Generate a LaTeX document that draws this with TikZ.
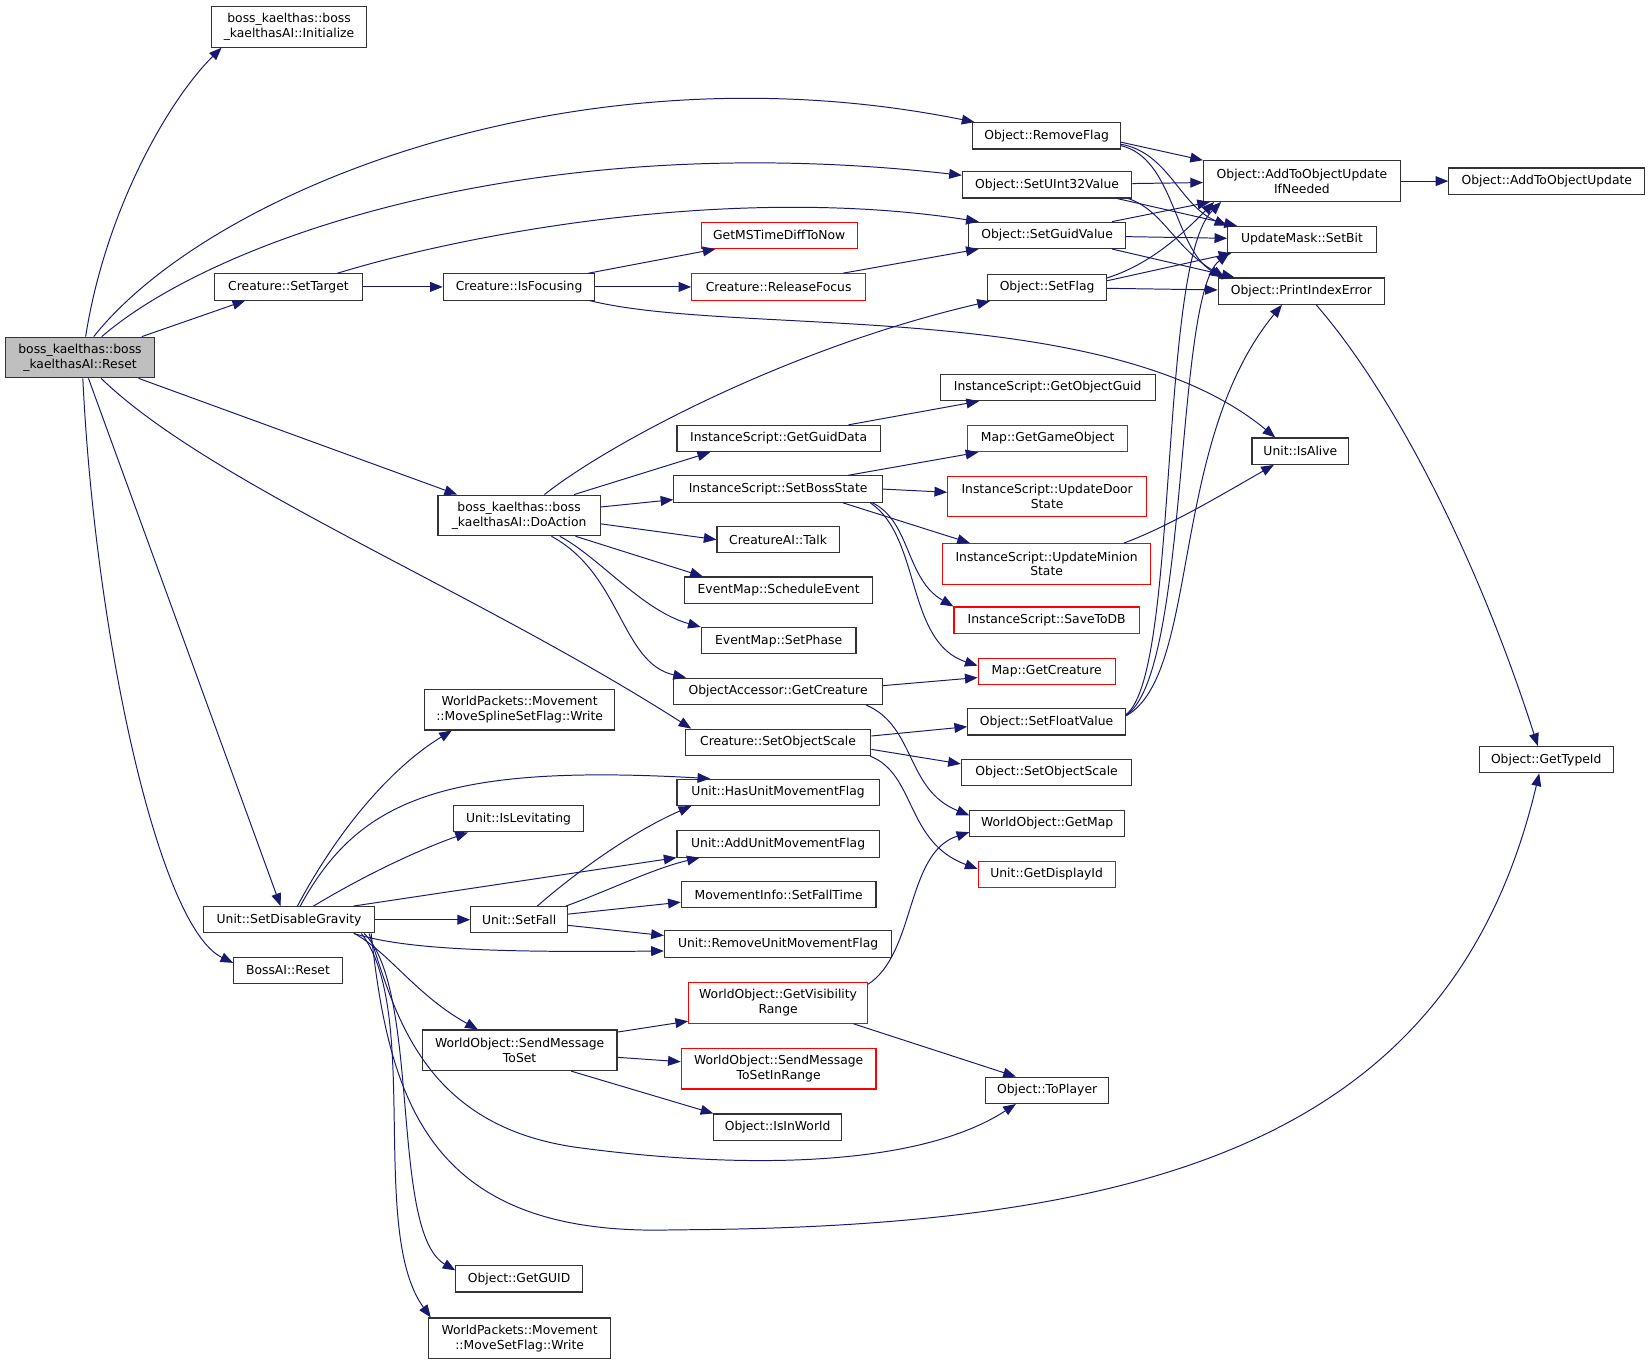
\documentclass[tikz,border=0pt]{standalone}
\usepackage{fontspec}
\setmainfont{DejaVu Sans}
\usepackage{tikz}
\usetikzlibrary{arrows.meta,positioning}
\definecolor{edgeblue}{RGB}{25,25,112}
\definecolor{rootgray}{RGB}{191,191,191}

\begin{document}
\begin{tikzpicture}[
    x=0.75pt, y=0.75pt,
    >={Triangle[length=9pt,width=7pt]},
    font=\fontsize{8.8}{10.6}\selectfont,
    func/.style={
		rectangle,
		draw=black!80,
		line width=0.8pt,
		fill=white,
		text centered,
		align=center,
		inner xsep=1pt,
		inner ysep=0pt,
		minimum height=18.75pt
	},
	ext/.style={func, draw=red},
	root/.style={func, fill=rootgray},
	tall/.style={minimum height=28.9pt},
	wd/.style={minimum width=#1*0.75pt},
	call/.style={draw=edgeblue, line width=0.7pt, ->}
  ]
  \useasboundingbox (0,0) rectangle (1568,-1296);

    % We start by placing the blocks
  \node [root, tall, wd=142] (reset) at (76,-339.5) {boss\_kaelthas::boss\\\_kaelthasAI::Reset};
  \node [func, tall, wd=147] (initialize) at (274.5,-25.5) {boss\_kaelthas::boss\\\_kaelthasAI::Initialize};
  \node [func, wd=140] (settarget) at (274,-272.5) {Creature::SetTarget};
  \node [func, wd=163] (disgravity) at (274.5,-873.5) {Unit::SetDisableGravity};
  \node [func, wd=103] (bossreset) at (273.5,-921.5) {BossAI::Reset};

  % second column
  \node [func, wd=144] (isfocusing) at (493,-272.5) {Creature::IsFocusing};
  \node [func, tall, wd=154] (doaction) at (493,-489.5) {boss\_kaelthas::boss\\\_kaelthasAI::DoAction};
  \node [func, tall, wd=181] (splinewrite) at (493.5,-674) {WorldPackets::Movement\\::MoveSplineSetFlag::Write};
  \node [func, wd=123] (islevitating) at (492.5,-777.5) {Unit::IsLevitating};
  \node [func, wd=92] (setfall) at (493,-873.5) {Unit::SetFall};
  \node [func, tall, wd=185] (sendset) at (493.5,-997.5) {WorldObject::SendMessage\\ToSet};
  \node [func, wd=120] (getguid) at (493,-1214.5) {Object::GetGUID};
  \node [func, tall, wd=173] (setflagwrite) at (493.5,-1271) {WorldPackets::Movement\\::MoveSetFlag::Write};

  % third column
  \node [ext, wd=148] (msdiff) at (740,-223.5) {GetMSTimeDiffToNow};
  \node [ext, wd=165] (releasefocus) at (739.5,-272.5) {Creature::ReleaseFocus};
  \node [func, wd=193] (getguiddata) at (739.5,-416.5) {InstanceScript::GetGuidData};
  \node [func, wd=198] (setbossstate) at (739,-464.5) {InstanceScript::SetBossState};
  \node [func, wd=116] (talk) at (739,-512.5) {CreatureAI::Talk};
  \node [func, wd=179] (schedule) at (739.5,-560.5) {EventMap::ScheduleEvent};
  \node [func, wd=147] (setphase) at (739.5,-608.5) {EventMap::SetPhase};
  \node [func, wd=198] (oagetcreature) at (739,-656.5) {ObjectAccessor::GetCreature};
  \node [func, wd=176] (crscale) at (739,-705) {Creature::SetObjectScale};
  \node [func, wd=192] (hasflag) at (739,-752.5) {Unit::HasUnitMovementFlag};
  \node [func, wd=192] (addflag) at (739,-801.5) {Unit::AddUnitMovementFlag};
  \node [func, wd=185] (falltime) at (739.5,-849.5) {MovementInfo::SetFallTime};
  \node [func, wd=216] (removemflag) at (739,-896.5) {Unit::RemoveUnitMovementFlag};
  \node [ext, tall, wd=170] (visrange) at (739,-952.5) {WorldObject::GetVisibility\\Range};
  \node [ext, tall, wd=185] (sendrange) at (739.5,-1015) {WorldObject::SendMessage\\ToSetInRange};
  \node [func, wd=121] (isinworld) at (738.5,-1070.5) {Object::IsInWorld};

  % fourth column
  \node [func, wd=140] (removeflag) at (994,-129) {Object::RemoveFlag};
  \node [func, wd=161] (setuint) at (994.5,-175.5) {Object::SetUInt32Value};
  \node [func, wd=149] (setguid) at (994.5,-223.5) {Object::SetGuidValue};
  \node [func, wd=113] (setflag) at (994.5,-273) {Object::SetFlag};
  \node [func, wd=204] (getobjguid) at (995,-368) {InstanceScript::GetObjectGuid};
  \node [ext, wd=152] (getgameobject) at (995,-416.5) {Map::GetGameObject};
  \node [ext, tall, wd=189] (updatedoor) at (994.5,-471.5) {InstanceScript::UpdateDoor\\State};
  \node [ext, tall, wd=198] (updateminion) at (994,-535.5) {InstanceScript::UpdateMinion\\State};
  \node [ext, wd=176] (savetodb) at (994,-589) {InstanceScript::SaveToDB};
  \node [ext, wd=130] (mapcreature) at (994,-637.5) {Map::GetCreature};
  \node [func, wd=150] (setfloat) at (994,-685.5) {Object::SetFloatValue};
  \node [func, wd=162] (objscale) at (994,-733.5) {Object::SetObjectScale};
  \node [func, wd=147] (getmap) at (994.5,-782) {WorldObject::GetMap};
  \node [ext, wd=130] (displayid) at (994,-830.5) {Unit::GetDisplayId};
  \node [func, wd=117] (toplayer) at (994.5,-1035.5) {Object::ToPlayer};

  % right columns
  \node [func, tall, wd=187] (addupdate) at (1236.5,-172) {Object::AddToObjectUpdate\\IfNeeded};
  \node [func, wd=141] (setbit) at (1236.5,-227.5) {UpdateMask::SetBit};
  \node [func, wd=158] (printerror) at (1236,-276.5) {Object::PrintIndexError};
  \node [func, wd=92] (isalive) at (1235,-428.5) {Unit::IsAlive};
  \node [func, wd=186] (addobject) at (1469,-172) {Object::AddToObjectUpdate};
  \node [func, wd=127] (typeid) at (1468.5,-721.5) {Object::GetTypeId};

  % calls of the root
  \draw [call] ([xshift=4pt]reset.north) .. controls (100,-200) and (160,-95) .. ([xshift=7.5pt]initialize.south west);
  \draw [call] ([xshift=9.75pt]reset.north) .. controls (200,-180) and (550,-40) .. ([xshift=1.5pt]removeflag.north west);
  \draw [call] ([xshift=15.5pt]reset.north) .. controls (200,-230) and (500,-120) .. ([yshift=-3pt]setuint.north west);
  \draw [call] ([xshift=44pt]reset.north) -- ([xshift=22pt]settarget.south west);
  \draw [call] ([xshift=-12pt]reset.south east) -- ([xshift=14pt]doaction.north west);
  \draw [call] ([xshift=15pt]reset.south) .. controls (200,-460) and (450,-560) .. ([xshift=4.5pt]crscale.north west);
  \draw [call] ([xshift=6pt]reset.south) -- ([xshift=55.5pt]disgravity.north west);
  \draw [call] ([xshift=2pt]reset.south) .. controls (90,-600) and (150,-880) .. ([yshift=-4.5pt]bossreset.north west);

  % target and focus
  \draw [call] ([xshift=-18pt]settarget.north east) .. controls (450,-220) and (700,-175) .. ([xshift=7.5pt]setguid.north west);
  \draw [call] (settarget) -- (isfocusing);
  \draw [call] ([xshift=-5pt]isfocusing.north east) -- ([xshift=10.5pt]msdiff.south west);
  \draw [call] (isfocusing) -- (releasefocus);
  \draw [call] ([xshift=-4pt]isfocusing.south east) .. controls (700,-320) and (1050,-282) .. ([xshift=17pt]isalive.north west);
  \draw [call] ([xshift=-16.5pt]releasefocus.north east) -- ([xshift=7.5pt]setguid.south west);

  % object setters
  \draw [call] ([yshift=-4.5pt]removeflag.east) -- (addupdate.north west);
  \draw [call] ([yshift=-6pt]removeflag.east) .. controls (1110,-145) and (1120,-195) .. (setbit.north west);
  \draw [call] ([yshift=-7pt]removeflag.east) .. controls (1115,-150) and (1115,-235) .. ([xshift=3pt]printerror.north west);
  \draw [call] (setuint) -- (addupdate);
  \draw [call] ([xshift=-11pt]setuint.south east) -- ([xshift=7pt]setbit.north west);
  \draw [call] ([xshift=-3pt]setuint.south east) .. controls (1105,-200) and (1115,-235) .. ([xshift=5pt]printerror.north west);
  \draw [call] ([xshift=-10pt]setguid.north east) -- ([xshift=5pt]addupdate.south west);
  \draw [call] (setguid) -- (setbit);
  \draw [call] ([xshift=-10pt]setguid.south east) -- ([xshift=12pt]printerror.north west);
  \draw [call] ([yshift=-3pt]setflag.north east) .. controls (1095,-250) and (1125,-220) .. ([xshift=8pt]addupdate.south west);
  \draw [call] ([yshift=-5pt]setflag.north east) -- ([xshift=3pt]setbit.south west);
  \draw [call] (setflag) -- (printerror);
  \draw [call] ([yshift=-4.5pt]setfloat.north east) .. controls (1120,-640) and (1100,-250) .. ([xshift=13pt]addupdate.south west);
  \draw [call] ([yshift=-5pt]setfloat.north east) .. controls (1130,-640) and (1115,-280) .. ([xshift=1.5pt]setbit.south west);
  \draw [call] ([yshift=-5.5pt]setfloat.north east) .. controls (1140,-640) and (1110,-420) .. ([xshift=45.75pt]printerror.south west);
  \draw [call] (addupdate) -- (addobject);
  \draw [call] ([xshift=10.5pt]printerror.south) .. controls (1320,-370) and (1400,-520) .. ([xshift=-6pt]typeid.north);

  % DoAction
  \draw [call] ([xshift=18pt]doaction.north) .. controls (580,-420) and (750,-330) .. ([xshift=2pt]setflag.south west);
  \draw [call] ([xshift=-19pt]doaction.north east) -- ([xshift=24pt]getguiddata.south west);
  \draw [call] ([yshift=6pt]doaction.east) -- ([yshift=-7.5pt]setbossstate.west);
  \draw [call] ([yshift=-6pt]doaction.east) -- (talk.west);
  \draw [call] ([xshift=-18pt]doaction.south east) -- ([xshift=13.5pt]schedule.north west);
  \draw [call] ([xshift=29pt]doaction.south) .. controls (570,-530) and (610,-580) .. (setphase.north west);
  \draw [call] ([xshift=23pt]doaction.south) .. controls (590,-545) and (590,-630) .. ([xshift=9pt]oagetcreature.north west);
  \draw [call] ([xshift=-23pt]getguiddata.north east) -- ([xshift=28pt]getobjguid.south west);

  % boss state
  \draw [call] ([xshift=-25pt]setbossstate.north east) -- ([xshift=8pt]getgameobject.south west);
  \draw [call] (setbossstate.east) -- ([yshift=3pt]updatedoor.west);
  \draw [call] ([xshift=-28.5pt]setbossstate.south east) -- ([xshift=20pt]updateminion.north west);
  \draw [call] ([xshift=-7.5pt]setbossstate.south east) .. controls (865,-495) and (860,-550) .. (savetodb.north west);
  \draw [call] ([xshift=-9pt]setbossstate.south east) .. controls (875,-510) and (860,-610) .. ([yshift=4pt]mapcreature.west);
  \draw [call] ([xshift=-19.5pt]updateminion.north east) .. controls (1110,-500) and (1160,-470) .. ([xshift=16pt]isalive.south west);
  \draw [call] ([yshift=4pt]oagetcreature.east) -- ([yshift=-4.5pt]mapcreature.west);
  \draw [call] ([xshift=-12pt]oagetcreature.south east) .. controls (870,-690) and (860,-750) .. ([yshift=-4pt]getmap.north west);

  % object scale
  \draw [call] ([yshift=4.5pt]crscale.east) -- ([yshift=-3.5pt]setfloat.west);
  \draw [call] ([yshift=-5pt]crscale.east) -- ([yshift=6pt]objscale.west);
  \draw [call] ([xshift=-1pt]crscale.south east) .. controls (870,-735) and (860,-800) .. ([yshift=4pt]displayid.west);

  % gravity
  \draw [call] ([xshift=6pt]disgravity.north) .. controls (320,-790) and (370,-730) .. ([xshift=20pt]splinewrite.south west);
  \draw [call] ([xshift=8pt]disgravity.north) .. controls (340,-760) and (420,-725) .. ([xshift=24pt]hasflag.north west);
  \draw [call] ([xshift=17.5pt]disgravity.north) .. controls (340,-835) and (390,-810) .. ([xshift=10.5pt]islevitating.south west);
  \draw [call] ([xshift=-15.5pt]disgravity.north east) -- (addflag.south west);
  \draw [call] (disgravity) -- (setfall);
  \draw [call] ([xshift=-15.5pt]disgravity.south east) .. controls (380,-900) and (450,-905) .. ([yshift=-5pt]removemflag.west);
  \draw [call] ([xshift=-15pt]disgravity.south east) .. controls (370,-905) and (395,-945) .. ([xshift=40pt]sendset.north west);
  \draw [call] ([xshift=-4.5pt]disgravity.south east) .. controls (375,-960) and (400,-1070) .. (550,-1090)
        .. controls (700,-1110) and (870,-1110) .. ([xshift=22pt]toplayer.south west);
  \draw [call] ([xshift=-3pt]disgravity.south east) .. controls (370,-1050) and (410,-1175) .. (640,-1168)
        .. controls (1100,-1166) and (1380,-1080) .. ([xshift=-5pt]typeid.south);
  \draw [call] ([xshift=-8pt]disgravity.south east) .. controls (400,-940) and (370,-1170) .. ([yshift=6pt]getguid.west);
  \draw [call] ([xshift=-10pt]disgravity.south east) .. controls (400,-960) and (350,-1170) .. ([xshift=2pt]setflagwrite.north west);

  % fall
  \draw [call] ([xshift=13pt]setfall.north) .. controls (545,-830) and (600,-790) .. ([xshift=10.5pt]hasflag.south west);
  \draw [call] ([xshift=-1.5pt]setfall.north east) .. controls (580,-845) and (620,-825) .. ([xshift=16.5pt]addflag.south west);
  \draw [call] ([yshift=4pt]setfall.east) -- ([yshift=-5.5pt]falltime.west);
  \draw [call] ([yshift=-4pt]setfall.east) -- ([yshift=6pt]removemflag.west);

  % messages
  \draw [call] ([yshift=13pt]sendset.east) -- ([yshift=-13pt]visrange.west);
  \draw [call] ([yshift=-5pt]sendset.east) -- ([yshift=5pt]sendrange.west);
  \draw [call] ([xshift=-33pt]sendset.south east) -- (isinworld.north west);
  \draw [call] ([yshift=-1.5pt]visrange.north east) .. controls (870,-905) and (860,-810) .. ([yshift=3.5pt]getmap.south west);
  \draw [call] ([xshift=-10.5pt]visrange.south east) -- ([xshift=22pt]toplayer.north west);

\end{tikzpicture}
\end{document}
